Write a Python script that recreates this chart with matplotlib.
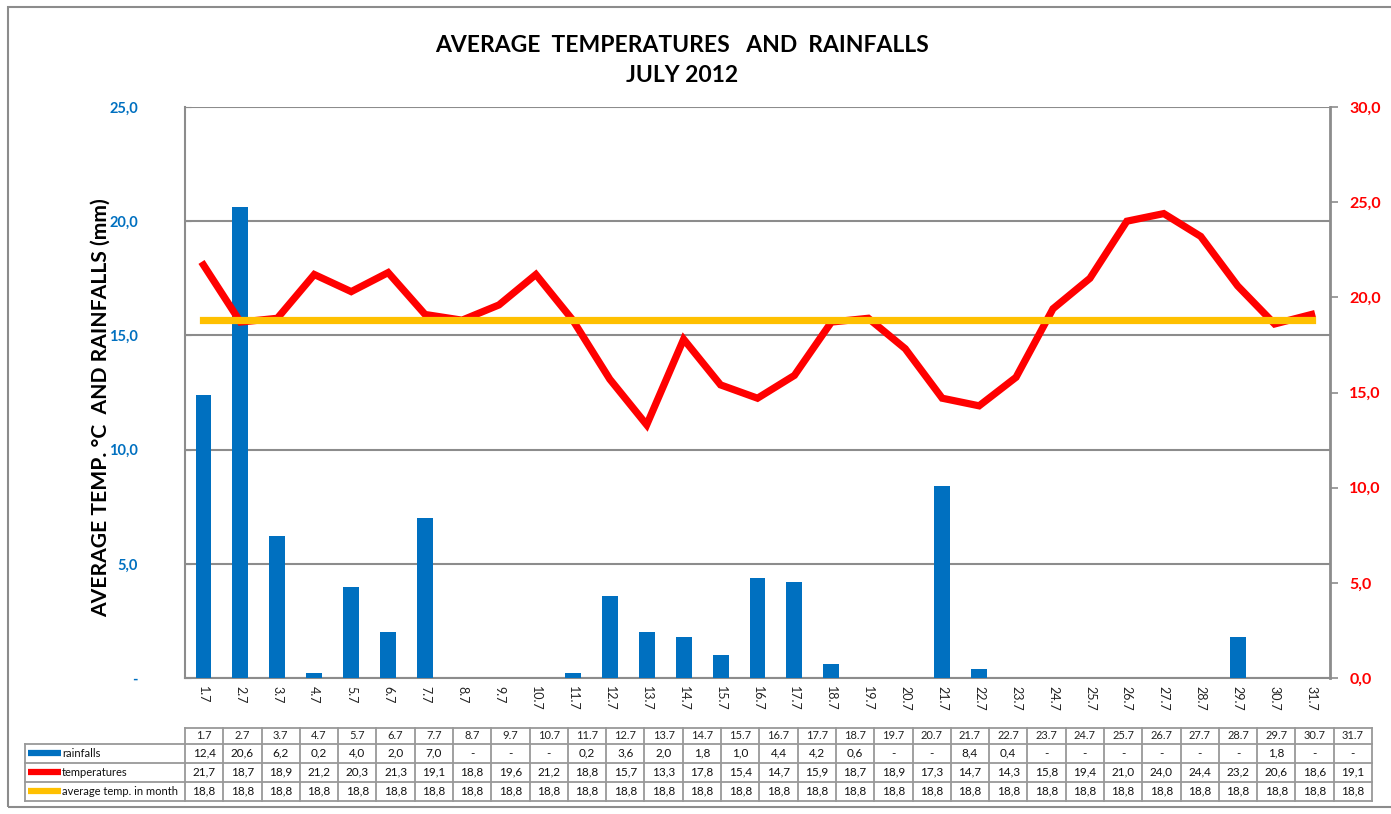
#!/usr/bin/env python3
# -*- coding: utf-8 -*-

import matplotlib
matplotlib.use('Agg')
import matplotlib.pyplot as plt
import numpy as np
from matplotlib.patches import Rectangle

plt.rcParams['font.family'] = ['Lato', 'DejaVu Sans']

days = ['%d.7' % d for d in range(1, 32)]
rainfalls = [12.4, 20.6, 6.2, 0.2, 4.0, 2.0, 7.0, 0, 0, 0,
             0.2, 3.6, 2.0, 1.8, 1.0, 4.4, 4.2, 0.6, 0, 0,
             8.4, 0.4, 0, 0, 0, 0, 0, 0, 1.8, 0, 0]
temperatures = [21.7, 18.7, 18.9, 21.2, 20.3, 21.3, 19.1, 18.8, 19.6, 21.2,
                18.8, 15.7, 13.3, 17.8, 15.4, 14.7, 15.9, 18.7, 18.9, 17.3,
                14.7, 14.3, 15.8, 19.4, 21.0, 24.0, 24.4, 23.2, 20.6, 18.6, 19.1]
avg_month = [18.8] * 31

row_names = ['rainfalls', 'temperatures', 'average temp. in month']

BLUE = '#0070C0'
RED = '#FF0000'
YELLOW = '#FFC000'
GRAY = '#8c8c8c'

W, H = 1391, 814


def fmt(v, dash_zero=False):
    if dash_zero and v == 0:
        return '-'
    return ('%.1f' % v).replace('.', ',')


fig = plt.figure(figsize=(W / 100, H / 100), dpi=100)

# outer frame
fig.patches.append(Rectangle((8 / W, 1 - 807 / H), 1.2, 800 / H, transform=fig.transFigure,
                             fill=False, edgecolor=GRAY, lw=1.5))

ax = fig.add_axes([185 / W, 1 - 678 / H, (1330 - 185) / W, (678 - 107) / H])
x = np.arange(len(days))

ax.bar(x, rainfalls, width=0.43, color=BLUE, zorder=3)
ax.set_xlim(-0.5, len(days) - 0.5)
ax.set_ylim(0, 25)
ax.set_yticks(np.arange(0, 26, 5))
ax.set_yticklabels(['-'] + [fmt(v) for v in np.arange(5, 26, 5)],
                   color=BLUE, fontweight='bold', fontsize=10.5)
ax.tick_params(axis='y', direction='in', length=4, pad=34, color=GRAY)
ax.set_xticks(x)
ax.set_xticklabels(days, rotation=270, fontsize=9, color='#222222')
ax.tick_params(axis='x', length=0, pad=6)
ax.grid(axis='y', color=GRAY, lw=1.5, zorder=0)
for s in ['left', 'bottom']:
    ax.spines[s].set_color(GRAY)
    ax.spines[s].set_linewidth(1.5)
ax.spines['top'].set_visible(False)
ax.spines['right'].set_visible(False)

ax2 = ax.twinx()
ax2.plot(x, temperatures, color=RED, lw=5.2, solid_joinstyle='miter', zorder=4)
ax2.plot(x, avg_month, color=YELLOW, lw=5.2, zorder=5)
ax2.set_ylim(0, 30)
ax2.set_yticks(np.arange(0, 31, 5))
ax2.set_yticklabels([fmt(v) for v in np.arange(0, 31, 5)],
                    color=RED, fontweight='bold', fontsize=11.5)
ax2.tick_params(axis='y', direction='out', length=6, pad=8, color=GRAY, width=1.2)
for s in ['left', 'top', 'bottom']:
    ax2.spines[s].set_visible(False)
ax2.spines['right'].set_color(GRAY)
ax2.spines['right'].set_linewidth(2)

fig.text(682 / W, 1 - 45 / H, 'AVERAGE  TEMPERATURES   AND  RAINFALLS',
         ha='center', va='center', fontsize=16.5, fontweight='bold')
fig.text(682 / W, 1 - 75 / H, 'JULY 2012',
         ha='center', va='center', fontsize=16.5, fontweight='bold')
fig.text(101 / W, 1 - 408 / H, 'AVERAGE TEMP. °C  AND RAINFALLS (mm)',
         rotation=90, ha='center', va='center', fontsize=15.2, fontweight='bold')

# data table under the chart
n = len(days)
lab_w = (185 - 25) / ((1372 - 185) / n)
tab = fig.add_axes([25 / W, 1 - 801 / H, (1372 - 25) / W, (801 - 728) / H])
tab.set_xlim(-lab_w, n)
tab.set_ylim(4, 0)
tab.axis('off')
row_h = [0, 0.85, 1.9, 2.95, 4]
for yv in row_h:
    x0 = -lab_w if yv > 0 else 0
    tab.plot([x0, n], [yv, yv], color='#999999', lw=1.3, clip_on=False)
for i in range(n + 1):
    tab.plot([i, i], [0, 4], color='#999999', lw=1.3, clip_on=False)
tab.plot([-lab_w, -lab_w], [row_h[1], 4], color='#999999', lw=1.3, clip_on=False)

for i, d in enumerate(days):
    tab.text(i + 0.5, (row_h[0] + row_h[1]) / 2, d, ha='center', va='center',
             fontsize=8, color='#222222')
rows = [[fmt(v, True) for v in rainfalls],
        [fmt(v) for v in temperatures],
        [fmt(v) for v in avg_month]]
colors = [BLUE, RED, YELLOW]
for r, vals in enumerate(rows):
    yc = (row_h[r + 1] + row_h[r + 2]) / 2
    for i, s in enumerate(vals):
        tab.text(i + 0.5, yc, s, ha='center', va='center', fontsize=8.5, color='#111111')
    tab.plot([-lab_w + 0.08, -lab_w + 0.95], [yc, yc], color=colors[r], lw=4.5,
             solid_capstyle='butt')
    tab.text(-lab_w + 0.97, yc, row_names[r], ha='left', va='center',
             fontsize=8, color='#111111')

fig.savefig('out.png', dpi=100)
